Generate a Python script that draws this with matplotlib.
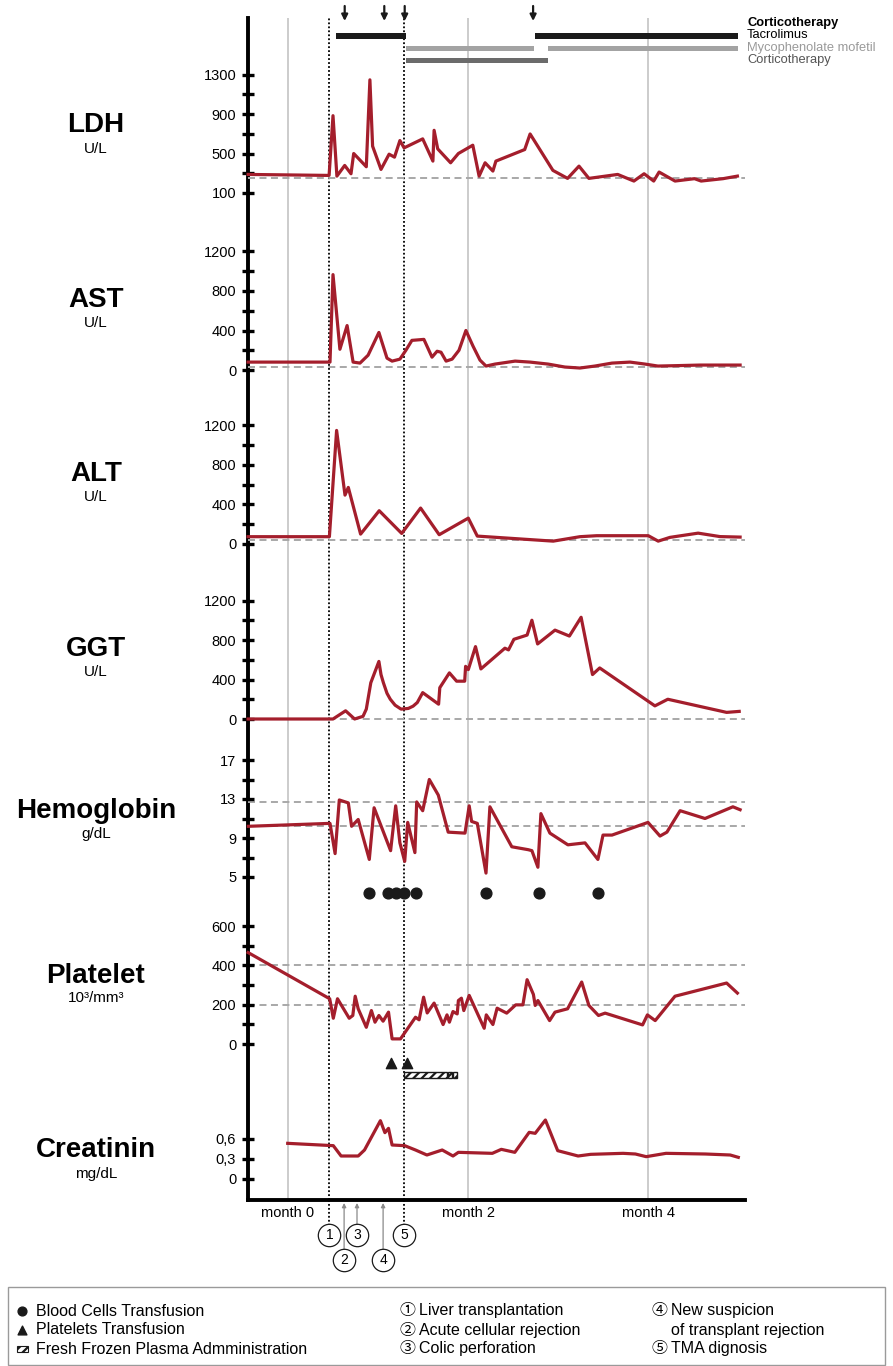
import matplotlib
matplotlib.use("Agg")
import matplotlib.pyplot as plt
from matplotlib.patches import Rectangle

plt.rcParams['font.family'] = ['Liberation Sans', 'Noto Sans CJK JP', 'DejaVu Sans']
plt.rcParams['hatch.linewidth'] = 1.6

W, H = 893, 1366
RED = '#a41e2c'

# ---------------- data (x = days after "month 0") ----------------
ldh_day = [-13.3, 13.7, 15.0, 16.3, 18.9, 21.0, 21.9, 26.1, 27.3, 28.2, 31.0, 33.7, 35.5, 37.3, 38.7,
           44.9, 48.3, 48.7, 49.9, 54.2, 56.8, 61.6, 63.7, 65.7, 68.3, 69.3, 78.9, 80.7, 88.3, 93.2,
           97.0, 100.3, 109.9, 115.3, 118.7, 121.9, 123.7, 129.0, 135.5, 137.7, 145.0, 149.8]
ldh_val = [288, 278, 883, 271, 379, 295, 500, 366, 1246, 574, 339, 493, 463, 631, 557,
           648, 423, 735, 547, 406, 500, 584, 271, 406, 322, 423, 540, 698, 329, 248,
           372, 248, 288, 221, 295, 221, 312, 221, 245, 221, 245, 271]

ast_day = [-13.3, 14.0, 15.0, 17.3, 19.7, 21.7, 24.0, 26.7, 30.3, 33.0, 34.7, 37.3, 39.3, 41.3, 45.3,
           48.0, 49.7, 51.0, 52.7, 54.7, 57.0, 59.3, 61.7, 64.0, 66.0, 69.0, 75.7, 80.7, 86.7, 92.3,
           97.3, 102.3, 108.0, 114.0, 119.0, 123.3, 130.7, 137.3, 150.7]
ast_val = [80, 80, 966, 210, 450, 80, 70, 150, 380, 120, 90, 110, 200, 300, 310,
           130, 190, 180, 90, 110, 200, 400, 240, 100, 40, 60, 90, 80, 60, 30,
           20, 40, 70, 80, 60, 40, 45, 50, 50]

alt_day = [-13.3, 13.8, 16.2, 19.0, 20.1, 24.2, 30.4, 37.9, 44.2, 50.4, 60.1, 63.1, 88.4, 97.3,
           102.9, 120.1, 123.4, 127.3, 136.7, 144.0, 150.7]
alt_val = [74, 74, 1150, 495, 573, 100, 337, 107, 364, 94, 262, 80, 29, 74,
           84, 84, 29, 67, 110, 75, 70]

ggt_day = [-13.3, 15.0, 19.2, 22.2, 25.0, 26.1, 27.6, 30.3, 31.0, 31.8, 33.0, 34.1, 35.7, 37.7,
           40.1, 41.7, 43.1, 44.9, 50.2, 50.6, 53.8, 56.2, 58.9, 59.2, 60.1, 62.5, 64.3, 72.3,
           73.5, 75.3, 79.7, 81.3, 83.2, 89.0, 93.8, 97.7, 101.5, 103.9, 122.3, 126.6, 146.2, 150.4]
ggt_val = [0, 0, 83, 0, 27, 100, 367, 583, 450, 367, 260, 200, 140, 100,
           107, 130, 167, 267, 150, 317, 467, 383, 383, 533, 500, 733, 507, 717,
           700, 807, 850, 1000, 760, 900, 840, 1030, 450, 517, 133, 200, 67, 77]

hb_day = [-13.2, 14.0, 15.7, 17.1, 20.1, 21.2, 23.4, 27.1, 28.7, 34.2, 35.9, 37.3, 38.9, 39.9,
          42.3, 42.9, 44.9, 47.1, 50.1, 53.4, 59.0, 60.4, 61.2, 63.1, 66.0, 67.3, 74.6, 80.1,
          81.3, 83.3, 84.3, 87.3, 93.3, 99.0, 103.3, 105.0, 108.0, 120.0, 124.0, 126.3, 130.7,
          139.0, 148.3, 150.7]
hb_val = [10.2, 10.5, 7.4, 12.9, 12.6, 10.2, 10.9, 6.8, 12.1, 7.7, 12.3, 8.5, 6.6, 10.6,
          7.5, 12.7, 11.8, 15.0, 13.4, 9.6, 9.5, 12.3, 10.7, 10.5, 5.4, 12.2, 8.1, 7.8,
          7.7, 6.0, 11.5, 9.5, 8.3, 8.5, 6.8, 9.3, 9.3, 10.6, 9.2, 9.6, 11.8,
          11.0, 12.2, 11.9]

plt_day = [-13.3, 13.9, 15.1, 16.5, 20.4, 21.6, 22.4, 23.4, 26.1, 27.8, 29.0, 30.3, 31.7, 33.5,
           34.7, 37.5, 42.5, 43.7, 45.2, 46.4, 48.7, 51.7, 53.0, 53.8, 55.0, 56.4, 56.8, 57.8,
           58.6, 60.4, 65.4, 66.1, 68.3, 69.7, 72.9, 75.9, 78.3, 79.7, 81.8, 82.4, 83.3, 87.2,
           89.0, 93.2, 97.9, 100.3, 103.5, 105.7, 118.2, 119.8, 122.4, 129.0, 146.2, 149.8]
plt_val = [465, 230, 131, 230, 131, 145, 243, 179, 85, 170, 111, 145, 116, 162,
           26, 26, 136, 123, 238, 158, 208, 99, 148, 111, 165, 153, 221, 233,
           170, 247, 80, 148, 99, 182, 157, 199, 199, 327, 252, 196, 221, 119,
           162, 179, 315, 196, 145, 157, 97, 148, 119, 243, 310, 259]

cr_day = [-0.1, 15.1, 17.7, 23.4, 25.5, 30.8, 32.3, 33.5, 34.7, 38.9, 42.5, 46.3, 51.4, 55.0,
          56.8, 68.1, 71.1, 75.6, 80.4, 82.4, 85.8, 89.9, 96.7, 100.9, 111.7, 115.8, 119.4,
          126.0, 139.1, 147.4, 150.1]
cr_val = [0.535, 0.50, 0.345, 0.345, 0.435, 0.875, 0.695, 0.76, 0.51, 0.50, 0.435, 0.36, 0.435, 0.345,
          0.40, 0.385, 0.445, 0.40, 0.70, 0.685, 0.885, 0.425, 0.345, 0.37, 0.385, 0.375, 0.335,
          0.385, 0.375, 0.36, 0.325]

blood_tx_day = [27.0, 33.3, 36.0, 38.8, 42.5, 66.0, 83.7, 103.3]
platelet_tx_day = [34.3, 39.7]
ffp_start = [38.6, 53.2, 54.9]
ffp_end = [52.9, 54.8, 56.4]

event_day = [13.8, 18.7, 23.0, 31.7, 38.8]
event_num = ['1', '2', '3', '4', '5']

tacro_seg = [(16.0, 39.2), (82.2, 150.0)]
mmf_seg = [(39.2, 82.0), (86.7, 150.0)]
cortico_seg = [(39.2, 86.7)]
pulse_day = [18.9, 32.1, 38.9, 81.7]

month_day = [0, 60, 120]
month_lbl = ['month 0', 'month 2', 'month 4']

# ---------------- layout helpers ----------------
fig = plt.figure(figsize=(W / 100, H / 100), dpi=100)
X0, X1 = 248, 745
XLIM = ((X0 - 288) / 3, (X1 - 288) / 3)
XEND = 152.3


def axes_px(top, bot):
    ax = fig.add_axes([X0 / W, 1 - bot / H, (X1 - X0) / W, (bot - top) / H])
    ax.set_xlim(*XLIM)
    ax.patch.set_alpha(0)
    return ax


def panel(va, ya, vb, yb, top, bot):
    ax = axes_px(top, bot)
    k = (ya - yb) / (vb - va)
    ax.set_ylim(va - (bot - ya) / k, va + (ya - top) / k)
    for s in ax.spines.values():
        s.set_visible(False)
    ax.tick_params(axis='x', bottom=False, labelbottom=False)
    ax.tick_params(axis='y', direction='inout', length=9, width=2.4, pad=4, labelsize=10.5)
    return ax


def ticks(ax, vals, labels):
    ax.set_yticks(vals, labels)


def refline(ax, v):
    ax.hlines(v, XLIM[0], XEND, colors='#a8a8a8', linestyles=(0, (3.6, 2.3)), lw=1.4, zorder=1)


def series(ax, x, y):
    ax.plot(x, y, color=RED, lw=2.3, zorder=3, clip_on=False)


# base axes: spine, x axis, month grid, event lines
base = axes_px(18, 1200)
base.set_ylim(0, 1)
for s in ['top', 'right']:
    base.spines[s].set_visible(False)
base.spines['left'].set_linewidth(2.8)
base.spines['bottom'].set_linewidth(2.8)
base.set_xticks([])
base.set_yticks([])
for d in month_day:
    base.axvline(d, color='#c8c8c8', lw=1.3, zorder=0)
for i in (0, 4):
    base.axvline(event_day[i], color='black', lw=1.3, ls=(0, (1, 1.2)), zorder=0)

# ---------------- panels ----------------
ax = panel(100, 193, 1300, 74.5, 62, 215)
ticks(ax, [100, 300, 500, 700, 900, 1100, 1300], ['100', '', '500', '', '900', '', '1300'])
refline(ax, 250)
series(ax, ldh_day, ldh_val)

ax = panel(0, 370, 1200, 251.5, 240, 390)
ticks(ax, range(0, 1201, 200), ['0', '', '400', '', '800', '', '1200'])
refline(ax, 35)
series(ax, ast_day, ast_val)

ax = panel(0, 544, 1200, 425.5, 414, 562)
ticks(ax, range(0, 1201, 200), ['0', '', '400', '', '800', '', '1200'])
refline(ax, 40)
series(ax, alt_day, alt_val)

ax = panel(0, 719, 1200, 600.5, 588, 738)
ticks(ax, range(0, 1201, 200), ['0', '', '400', '', '800', '', '1200'])
refline(ax, 5)
series(ax, ggt_day, ggt_val)

ax = panel(9, 838, 13, 799, 745, 905)
ticks(ax, [5, 7, 9, 11, 13, 15, 17], ['5', '', '9', '', '13', '', '17'])
refline(ax, 12.7)
refline(ax, 10.2)
series(ax, hb_day, hb_val)
ax.scatter(blood_tx_day, [3.4] * len(blood_tx_day), s=60, color='#1a1a1a', zorder=4, clip_on=False)

ax = panel(0, 1044, 600, 926, 915, 1090)
ticks(ax, range(0, 601, 100), ['0', '', '200', '', '400', '', '600'])
refline(ax, 400)
refline(ax, 200)
series(ax, plt_day, plt_val)
ax.scatter(platelet_tx_day, [-95] * len(platelet_tx_day), marker='^', s=55, color='#1a1a1a',
           zorder=4, clip_on=False)
for a, b in zip(ffp_start, ffp_end):
    ax.add_patch(Rectangle((a, -172), b - a, 31, facecolor='white', edgecolor='#1a1a1a',
                           hatch='////', lw=1.0, zorder=4))

ax = panel(0, 1179, 0.6, 1139, 1095, 1198)
ticks(ax, [0, 0.3, 0.6], ['0', '0,3', '0,6'])
series(ax, cr_day, cr_val)

# panel titles
titles = [('LDH', 'U/L', 125, 149), ('AST', 'U/L', 300, 323), ('ALT', 'U/L', 474, 497),
          ('GGT', 'U/L', 649, 672), ('Hemoglobin', 'g/dL', 811, 834),
          ('Platelet', '10³/mm³', 976, 998), ('Creatinin', 'mg/dL', 1150, 1174)]
for name, unit, y1, y2 in titles:
    fig.text(96 / W, 1 - y1 / H, name, ha='center', va='center', fontsize=20, fontweight='bold')
    fig.text(96 / W, 1 - y2 / H, unit, ha='center', va='center', fontsize=11)

# ---------------- treatments (top) ----------------
top = axes_px(0, 70)
top.set_ylim(70, 0)
top.axis('off')
for seg, y, c, h in [(tacro_seg, 36, '#1a1a1a', 5.5), (mmf_seg, 48, '#a3a3a3', 5),
                     (cortico_seg, 60, '#6b6b6b', 5)]:
    top.broken_barh([(a, b - a) for a, b in seg], (y - h / 2, h), facecolors=c, zorder=3)
for d in pulse_day:
    top.annotate('', xy=(d, 21), xytext=(d, 6),
                 arrowprops=dict(arrowstyle='-|>', color='#1a1a1a', lw=1.6, mutation_scale=9,
                                 shrinkA=0, shrinkB=0))
for txt, y, c, w in [('Corticotherapy', 23, '#000000', 'bold'), ('Tacrolimus', 35.5, '#000000', 'normal'),
                     ('Mycophenolate mofetil', 47.5, '#9a9a9a', 'normal'),
                     ('Corticotherapy', 59.5, '#555555', 'normal')]:
    top.text(153, y, txt, color=c, fontweight=w, fontsize=9.3, va='center', ha='left', clip_on=False)

# ---------------- events below the time axis ----------------
ev = axes_px(1200, 1285)
ev.set_ylim(85, 0)
ev.axis('off')
for d, lbl in zip(month_day, month_lbl):
    ev.text(d, 13, lbl, ha='center', va='center', fontsize=10.5)
for i, (d, n) in enumerate(zip(event_day, event_num)):
    y = 35 if i % 2 == 0 else 60
    if i in (0, 4):
        ev.plot([d, d], [0, y - 9], color='black', lw=1.3, ls=(0, (1, 1.2)))
    else:
        ev.annotate('', xy=(d, 3), xytext=(d, y - 9),
                    arrowprops=dict(arrowstyle='-|>', color='#8a8a8a', lw=0.9, mutation_scale=6,
                                    shrinkA=0, shrinkB=0))
    ev.scatter([d], [y], s=260, facecolors='white', edgecolors='#1a1a1a', linewidths=0.9, zorder=3)
    ev.text(d, y, n, ha='center', va='center', fontsize=10, zorder=4)

# ---------------- legend box ----------------
lg = fig.add_axes([0, 0, 1, 1 - 1280 / H])
lg.set_xlim(0, W)
lg.set_ylim(1366, 1280)
lg.axis('off')
lg.add_patch(Rectangle((8, 1287), 877, 78, fill=False, edgecolor='#9a9a9a', lw=1.0))
rows = [1311, 1330, 1349]
lg.scatter([22], [rows[0]], s=40, color='#1a1a1a')
lg.scatter([22], [rows[1]], marker='^', s=40, color='#1a1a1a')
lg.add_patch(Rectangle((17, rows[2] - 3), 11, 6, facecolor='white', edgecolor='#1a1a1a', hatch='////', lw=0.8))
fs = 11.5
for y, t in zip(rows, ['Blood Cells Transfusion', 'Platelets Transfusion',
                       'Fresh Frozen Plasma Admministration']):
    lg.text(36, y, t, va='center', fontsize=fs)
for y, c, t in zip(rows, ['①', '②', '③'],
                   ['Liver transplantation', 'Acute cellular rejection', 'Colic perforation']):
    lg.text(400, y, c, va='center', fontsize=fs)
    lg.text(419, y, t, va='center', fontsize=fs)
lg.text(652, rows[0], '④', va='center', fontsize=fs)
lg.text(671, rows[0], 'New suspicion', va='center', fontsize=fs)
lg.text(671, rows[1], 'of transplant rejection', va='center', fontsize=fs)
lg.text(652, rows[2], '⑤', va='center', fontsize=fs)
lg.text(671, rows[2], 'TMA dignosis', va='center', fontsize=fs)

fig.savefig('out.png', dpi=100)
